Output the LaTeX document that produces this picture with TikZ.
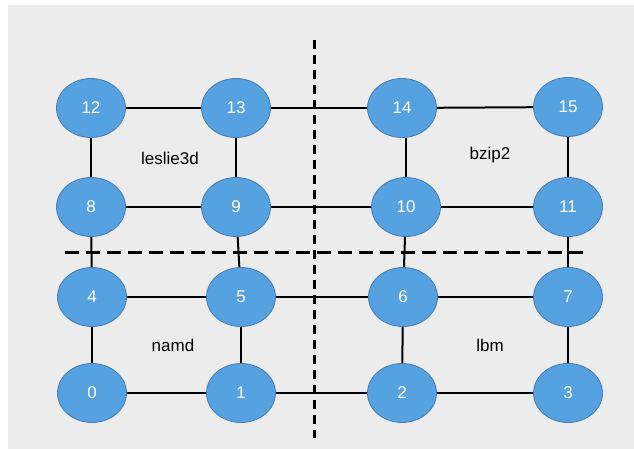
\documentclass[tikz,border=0pt]{standalone}
\usepackage{fontspec}
\setmainfont{Liberation Sans}
\usetikzlibrary{shapes.geometric}
\definecolor{nodeblue}{RGB}{86,161,223}
\definecolor{nodeedge}{RGB}{70,125,180}
\definecolor{panel}{RGB}{236,236,236}
\begin{document}
\begin{tikzpicture}[x=1pt,y=-1pt,
  nd/.style={ellipse,draw=nodeedge,line width=0.8pt,fill=nodeblue,text=white,minimum width=69pt,minimum height=59pt,inner sep=0pt,font=\fontsize{17}{17}\selectfont},
  lab/.style={font=\fontsize{17}{17}\selectfont,text=black},
  link/.style={line width=2pt,black},
  divider/.style={line width=3pt,black}]
\useasboundingbox (0,0) rectangle (634,449);
\fill[white] (0,0) rectangle (634,449);
\fill[panel] (8,5) rectangle (634,449);
% nodes
\node[nd] (n12) at (91,108) {12};
\node[nd] (n13) at (236,108) {13};
\node[nd] (n14) at (402,108) {14};
\node[nd] (n15) at (568,107) {15};
\node[nd] (n8) at (91,207) {8};
\node[nd] (n9) at (236,207) {9};
\node[nd] (n10) at (406,207) {10};
\node[nd] (n11) at (568,207) {11};
\node[nd] (n4) at (92,297) {4};
\node[nd] (n5) at (241,297) {5};
\node[nd] (n6) at (403,297) {6};
\node[nd] (n7) at (568,297) {7};
\node[nd] (n0) at (92,393) {0};
\node[nd] (n1) at (241,393) {1};
\node[nd] (n2) at (402,393) {2};
\node[nd] (n3) at (568,393) {3};
% labels
\node[lab] (l1) at (170,158) {leslie3d};
\node[lab] (l2) at (490,155) {bzip2};
\node[lab] (l3) at (173,345) {namd};
\node[lab] (l4) at (490,345) {lbm};
% links
\draw[link] (n12) -- (n13); \draw[link] (n13) -- (n14); \draw[link] (n14) -- (n15);
\draw[link] (n8) -- (n9); \draw[link] (n9) -- (n10); \draw[link] (n10) -- (n11);
\draw[link] (n4) -- (n5); \draw[link] (n5) -- (n6); \draw[link] (n6) -- (n7);
\draw[link] (n0) -- (n1); \draw[link] (n1) -- (n2); \draw[link] (n2) -- (n3);
\draw[link] (n12) -- (n8); \draw[link] (n8) -- (n4); \draw[link] (n4) -- (n0);
\draw[link] (n13) -- (n9); \draw[link] (n9) -- (n5); \draw[link] (n5) -- (n1);
\draw[link] (n14.south -| n10) -- (n10); \draw[link] (n10) -- (n6); \draw[link] (n6) -- (n2);
\draw[link] (n15) -- (n11); \draw[link] (n11) -- (n7); \draw[link] (n7) -- (n3);
% dividers
\coordinate (vt) at (314,40);
\coordinate (vb) at (314,438);
\coordinate (hl) at (65,252);
\coordinate (hr) at (588,252);
\draw[divider,dash pattern=on 9pt off 6pt] (vt) -- (vb);
\draw[divider,dash pattern=on 14pt off 7pt] (hl) -- (hr);
\end{tikzpicture}
\end{document}
